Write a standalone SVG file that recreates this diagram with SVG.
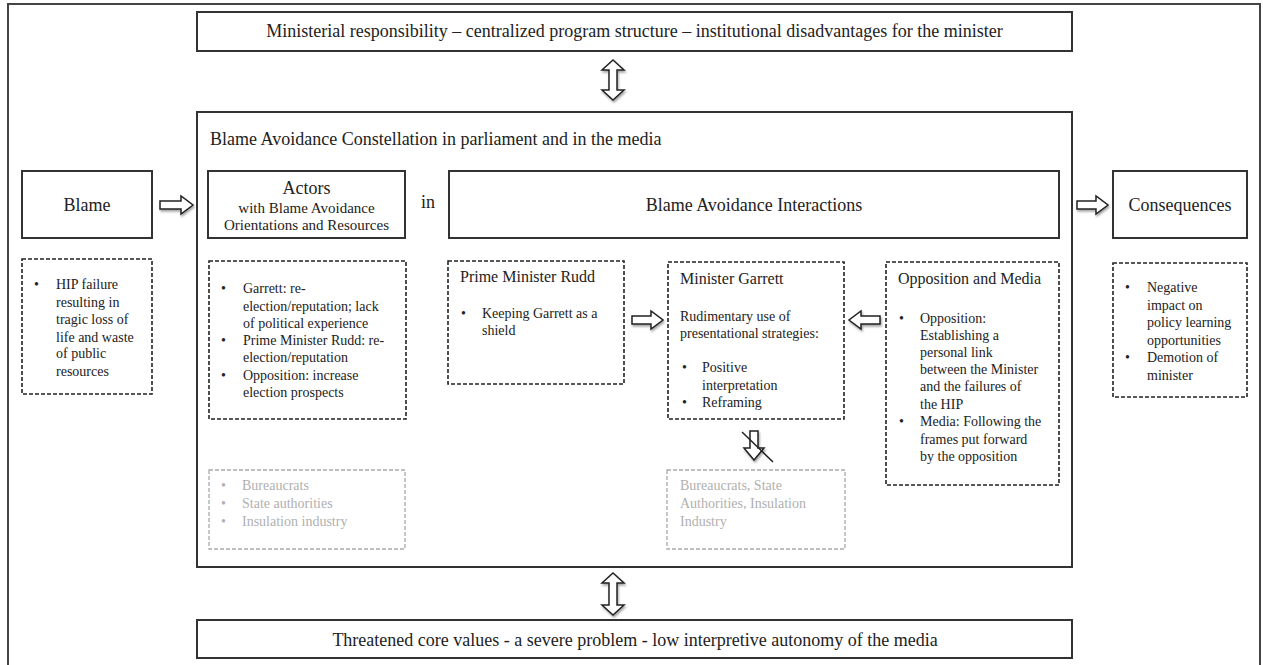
<svg xmlns="http://www.w3.org/2000/svg" width="1263" height="665" viewBox="0 0 1263 665" font-family="'Liberation Serif', 'Times New Roman', serif">
<style>
text{font-family:'Liberation Serif','Times New Roman',serif;fill:#222}
.t18{font-size:18px}
.t16{font-size:16px}
.t15{font-size:15px}
.t14{font-size:14px}
.mid{text-anchor:middle}
.solid{fill:#fff;stroke:#333;stroke-width:2}
.dash{fill:#fff;stroke:#222;stroke-width:1.6;stroke-dasharray:4 2}
.gdash{fill:#fff;stroke:#aaa;stroke-width:1.3;stroke-dasharray:4 2}
.grey{fill:#b0b0b0}
.arr{fill:#fff;stroke:#222;stroke-width:1.5;stroke-linejoin:miter;filter:url(#sh)}
</style>
<defs>
<filter id="sh" x="-30%" y="-30%" width="160%" height="160%">
<feDropShadow dx="1" dy="2" stdDeviation="1.2" flood-color="#000" flood-opacity="0.35"/>
</filter>
</defs>
<rect x="8" y="4" width="1252" height="680" fill="#fff" stroke="#444" stroke-width="2"/>

<g id="top-context">
<rect class="solid" x="197" y="12" width="875" height="39"/>
<text class="t18 mid" x="634.5" y="37">Ministerial responsibility – centralized program structure – institutional disadvantages for the minister</text>
</g>

<g id="constellation">
<rect class="solid" x="197" y="112" width="875" height="455"/>
<text class="t18" x="210" y="145">Blame Avoidance Constellation in parliament and in the media</text>
</g>

<g id="blame">
<rect class="solid" x="22" y="171" width="130" height="67"/>
<text class="t18 mid" x="87" y="211">Blame</text>
</g>

<g id="blame-detail">
<rect class="dash" x="22" y="259" width="130" height="135"/>
<text class="t14" x="34" y="289">•</text>
<text class="t14" x="56" y="289">HIP failure<tspan x="56" y="307">resulting  in</tspan><tspan x="56" y="324">tragic loss of</tspan><tspan x="56" y="342">life  and waste</tspan><tspan x="56" y="358">of public</tspan><tspan x="56" y="376">resources</tspan></text>
</g>

<g id="actors">
<rect class="solid" x="208" y="171" width="197" height="67"/>
<text class="t18 mid" x="306.5" y="194">Actors</text>
<text class="t15 mid" x="306.5" y="213">with Blame  Avoidance</text>
<text class="t15 mid" x="306.5" y="230">Orientations  and Resources</text>
</g>

<g id="in-label">
<text class="t18" x="421" y="208">in</text>
</g>

<g id="actors-detail">
<rect class="dash" x="209" y="261" width="197" height="158"/>
<text class="t14" x="221" y="293">•</text>
<text class="t14" x="243" y="293">Garrett: re-<tspan x="243" y="311">election/reputation;  lack</tspan><tspan x="243" y="328">of political  experience</tspan></text>
<text class="t14" x="221" y="345">•</text>
<text class="t14" x="243" y="345">Prime Minister  Rudd: re-<tspan x="243" y="362">election/reputation</tspan></text>
<text class="t14" x="221" y="380">•</text>
<text class="t14" x="243" y="380">Opposition: increase<tspan x="243" y="397">election  prospects</tspan></text>
</g>

<g id="actors-grey">
<rect class="gdash" x="209" y="470" width="196" height="79"/>
<text class="t14 grey" x="221" y="490">•</text>
<text class="t14 grey" x="242" y="490">Bureaucrats</text>
<text class="t14 grey" x="221" y="508">•</text>
<text class="t14 grey" x="242" y="508">State authorities</text>
<text class="t14 grey" x="221" y="526">•</text>
<text class="t14 grey" x="242" y="526">Insulation  industry</text>
</g>

<g id="interactions">
<rect class="solid" x="449" y="171" width="610" height="67"/>
<text class="t18 mid" x="754" y="211">Blame Avoidance Interactions</text>
</g>

<g id="rudd">
<rect class="dash" x="448" y="261" width="176" height="123"/>
<text class="t16" x="460" y="282">Prime Minister Rudd</text>
<text class="t14" x="461" y="318">•</text>
<text class="t14" x="482" y="318">Keeping  Garrett as a<tspan x="482" y="335">shield</tspan></text>
</g>

<g id="garrett">
<rect class="dash" x="668" y="262" width="176" height="157"/>
<text class="t16" x="680" y="284">Minister Garrett</text>
<text class="t14" x="680" y="321">Rudimentary  use of<tspan x="680" y="338">presentational  strategies:</tspan></text>
<text class="t14" x="682" y="372">•</text>
<text class="t14" x="702" y="372">Positive<tspan x="702" y="390">interpretation</tspan></text>
<text class="t14" x="682" y="407">•</text>
<text class="t14" x="702" y="407">Reframing</text>
</g>

<g id="opposition">
<rect class="dash" x="886" y="262" width="173" height="223"/>
<text class="t16" x="898" y="284">Opposition and Media</text>
<text class="t14" x="899" y="323">•</text>
<text class="t14" x="920" y="323">Opposition:<tspan x="920" y="340">Establishing  a</tspan><tspan x="920" y="357">personal link</tspan><tspan x="920" y="374">between the Minister</tspan><tspan x="920" y="391">and the failures  of</tspan><tspan x="920" y="409">the HIP</tspan></text>
<text class="t14" x="899" y="426">•</text>
<text class="t14" x="920" y="426">Media:  Following  the<tspan x="920" y="444">frames put forward</tspan><tspan x="920" y="461">by the opposition</tspan></text>
</g>

<g id="interactions-grey">
<rect class="gdash" x="667" y="470" width="178" height="79"/>
<text class="t14 grey" x="680" y="490">Bureaucrats,  State<tspan x="680" y="508">Authorities,  Insulation</tspan><tspan x="680" y="526">Industry</tspan></text>
</g>

<g id="consequences">
<rect class="solid" x="1113" y="171" width="134" height="67"/>
<text class="t18 mid" x="1180" y="211">Consequences</text>
</g>

<g id="consequences-detail">
<rect class="dash" x="1113" y="263" width="134" height="134"/>
<text class="t14" x="1125" y="292">•</text>
<text class="t14" x="1147" y="292">Negative<tspan x="1147" y="310">impact on</tspan><tspan x="1147" y="327">policy learning</tspan><tspan x="1147" y="345">opportunities</tspan></text>
<text class="t14" x="1125" y="362">•</text>
<text class="t14" x="1147" y="362">Demotion  of<tspan x="1147" y="380">minister</tspan></text>
</g>

<g id="bottom-context">
<rect class="solid" x="197" y="620" width="875" height="38"/>
<text class="t18 mid" x="635" y="646">Threatened core values - a severe problem - low interpretive autonomy of the media</text>
</g>

<g id="connectors">
<path class="arr" d="M609 70 H602 L613 60 L624 70 H617 V90 H624 L613 100 L602 90 H609 Z"/>
<path class="arr" d="M609 583 H602 L613 573 L624 583 H617 V605 H624 L613 615 L602 605 H609 Z"/>
<path class="arr" d="M160 201 H181 V196 L193 205 L181 214 V209 H160 Z"/>
<path class="arr" d="M1077 201 H1096 V196 L1108 205 L1096 214 V209 H1077 Z"/>
<path class="arr" d="M632 316 H651 V311 L663 320 L651 329 V324 H632 Z"/>
<path class="arr" d="M880 316 H861 V311 L849 320 L861 329 V324 H880 Z"/>
<path class="arr" d="M750 431 H758 V448 H764 L754 460 L744 448 H750 Z"/>
<line x1="742" y1="432" x2="773" y2="462" stroke="#222" stroke-width="1.5"/>
</g>
</svg>
